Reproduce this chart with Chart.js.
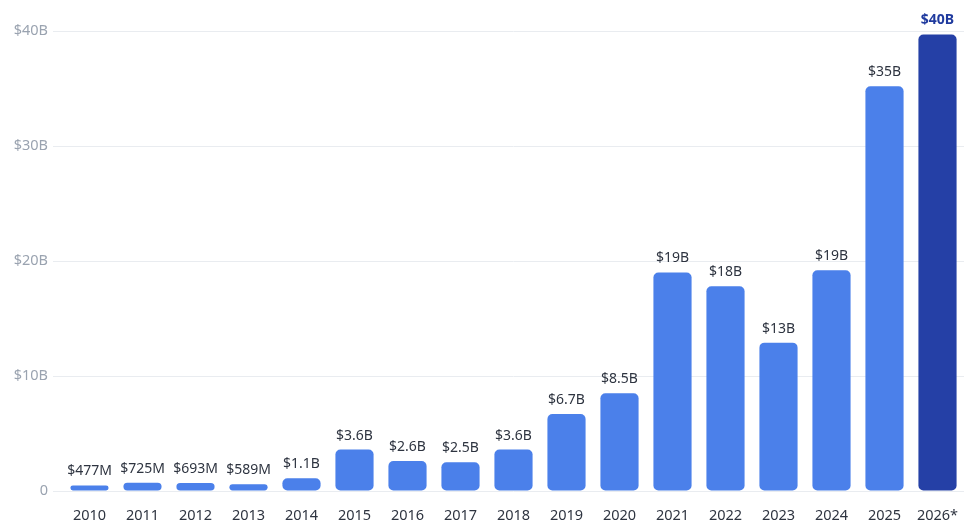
<!DOCTYPE html>
<html>
<head>
<meta charset="utf-8">
<script src="https://cdn.jsdelivr.net/npm/chart.js@4"></script>
<style>
  html, body { margin: 0; padding: 0; background: #fff; }
  #wrap { width: 980px; height: 531px; }
</style>
</head>
<body>
<div id="wrap"><canvas id="myChart" width="980" height="531"></canvas></div>
<script>
const years = ["2010","2011","2012","2013","2014","2015","2016","2017","2018","2019","2020","2021","2022","2023","2024","2025","2026*"];
const values = [0.477, 0.725, 0.693, 0.589, 1.1, 3.6, 2.6, 2.5, 3.6, 6.7, 8.5, 19.0, 17.8, 12.9, 19.2, 35.2, 39.7];
const valueLabels = ["$477M","$725M","$693M","$589M","$1.1B","$3.6B","$2.6B","$2.5B","$3.6B","$6.7B","$8.5B","$19B","$18B","$13B","$19B","$35B","$40B"];
const yTicks = ["0","$10B","$20B","$30B","$40B"];

const barColors = values.map((v, i) => i === values.length - 1 ? "#2540a6" : "#4b80ea");
const fontFamily = "'Noto Sans', sans-serif";

// value labels above each bar
const valueLabelPlugin = {
  id: "valueLabels",
  afterDatasetsDraw(chart) {
    const ctx = chart.ctx;
    const meta = chart.getDatasetMeta(0);
    ctx.save();
    ctx.textAlign = "center";
    ctx.textBaseline = "bottom";
    meta.data.forEach((bar, i) => {
      const last = i === values.length - 1;
      ctx.font = (last ? "bold " : "") + "14px " + fontFamily;
      ctx.fillStyle = last ? "#1f3a9e" : "#2e3440";
      ctx.fillText(valueLabels[i], bar.x, bar.y - 7);
    });
    ctx.restore();
  }
};

const config = {
  type: "bar",
  data: {
    labels: years,
    datasets: [{
      data: values,
      backgroundColor: barColors,
      borderRadius: 5,
      borderSkipped: false,
      barPercentage: 0.72,
      categoryPercentage: 1
    }]
  },
  options: {
    responsive: false,
    animation: false,
    layout: { padding: { top: 31, right: 16, left: 0, bottom: 0 } },
    plugins: {
      legend: { display: false },
      tooltip: { enabled: false }
    },
    scales: {
      x: {
        offset: true,
        grid: { display: false },
        border: { display: false },
        ticks: {
          color: "#2e3440",
          font: { family: fontFamily, size: 14.5 },
          padding: 8,
          maxRotation: 0
        },
        afterFit(scale) { scale.height = 40; }
      },
      y: {
        min: 0,
        max: 40,
        border: { display: false },
        grid: {
          color: "#e9ecf0",
          tickColor: "#e9ecf0",
          tickLength: 10,
          lineWidth: 1
        },
        ticks: {
          stepSize: 10,
          color: "#9aa3b0",
          font: { family: fontFamily, size: 14.5 },
          padding: 5,
          callback: function(value) {
            return yTicks[value / 10];
          }
        },
        afterFit(scale) { scale.width = 63; }
      }
    }
  },
  plugins: [valueLabelPlugin]
};

const ctx = document.getElementById("myChart").getContext("2d");
new Chart(ctx, config);
</script>
</body>
</html>
